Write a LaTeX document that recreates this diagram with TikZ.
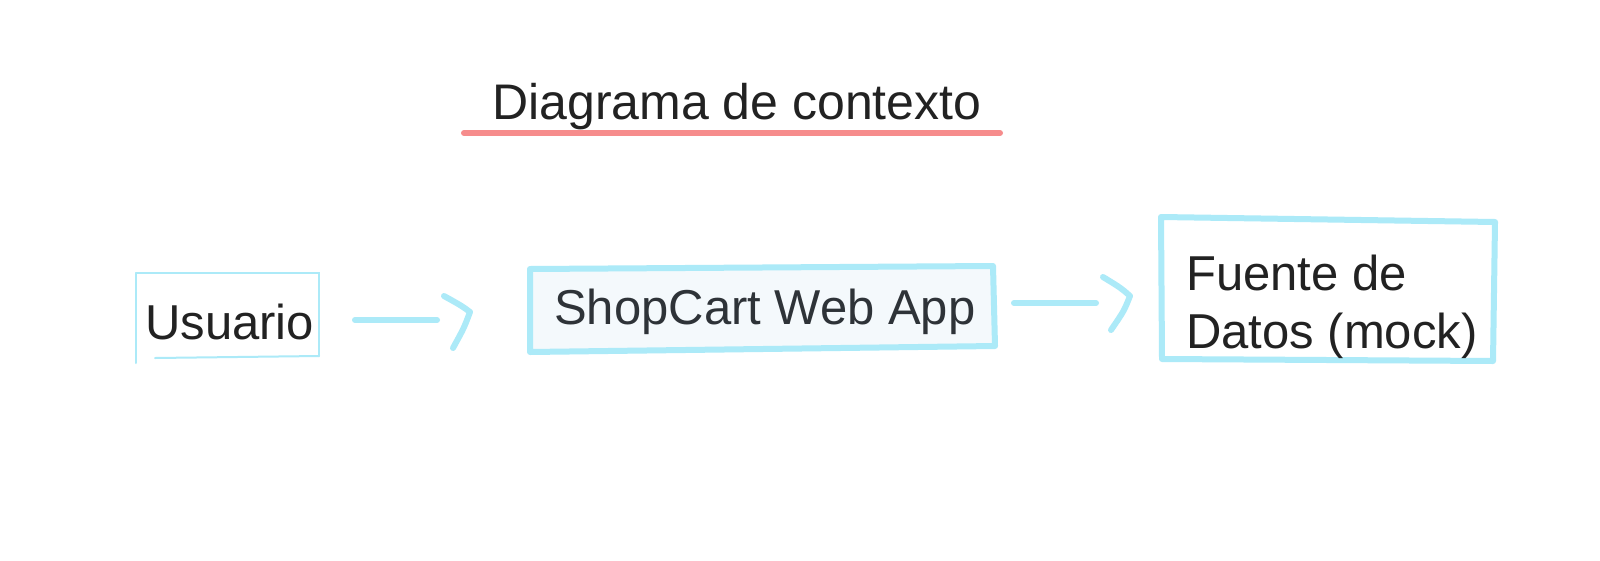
\documentclass[tikz,border=0pt]{standalone}
\usepackage{fontspec}
\setmainfont{Liberation Sans}
\definecolor{cyanline}{RGB}{172,234,248}
\definecolor{boxfill}{RGB}{244,249,252}
\definecolor{redline}{RGB}{246,140,140}
\definecolor{txt}{RGB}{34,34,34}
\definecolor{txtb}{RGB}{46,51,56}
\tikzset{
  lbl/.style={inner sep=0pt, anchor=base west, font=\fontsize{49}{58}\selectfont, text=txt},
  boxthick/.style={draw=cyanline, line width=6pt, line join=round, line cap=round},
  boxthin/.style={draw=cyanline, line width=2pt, line cap=round},
  conn/.style={draw=cyanline, line width=6pt, line cap=round, line join=round},
}
\begin{document}
\begin{tikzpicture}[x=1pt,y=-1pt]
\useasboundingbox[fill=white] (0,0) rectangle (1600,560);
% title
\node[lbl, font=\fontsize{50}{58}\selectfont] (title) at (492,119) {Diagrama de contexto};
\draw[draw=redline, line width=6pt, line cap=round] (464,133) -- (1000,133);
% Usuario box
\draw[boxthin] (136,273) -- (136,363);
\draw[boxthin] (136,273) -- (319,273) -- (319,356);
\draw[boxthin] (155,358) -- (319,356);
\node[lbl] (usuario) at (145,339) {Usuario};
% ShopCart box
\draw[boxthick, fill=boxfill] (530,269) -- (993,266) -- (995,346) -- (530,352) -- cycle;
\node[lbl, text=txtb] (app) at (554,324) {ShopCart Web App};
% Fuente box
\draw[boxthick] (1161,217) -- (1495,222) -- (1493,361) -- (1162,359) -- cycle;
\node[lbl] (fuente1) at (1186,290) {Fuente de};
\node[lbl] (fuente2) at (1186,348) {Datos (mock)};
% arrows
\coordinate (a1s) at (355,320);
\coordinate (a1e) at (437,320);
\coordinate (a1h1) at (444,296);
\coordinate (a1t) at (470,312);
\coordinate (a1h2) at (453,348);
\draw[conn] (a1s) -- (a1e);
\draw[conn] (a1h1) .. controls (462,306) .. (a1t) .. controls (464,328) .. (a1h2);
\coordinate (a2s) at (1014,303);
\coordinate (a2e) at (1096,303);
\coordinate (a2h1) at (1103,277);
\coordinate (a2t) at (1130,296);
\coordinate (a2h2) at (1111,330);
\draw[conn] (a2s) -- (a2e);
\draw[conn] (a2h1) .. controls (1121,288) .. (a2t) .. controls (1124,311) .. (a2h2);
\end{tikzpicture}
\end{document}
